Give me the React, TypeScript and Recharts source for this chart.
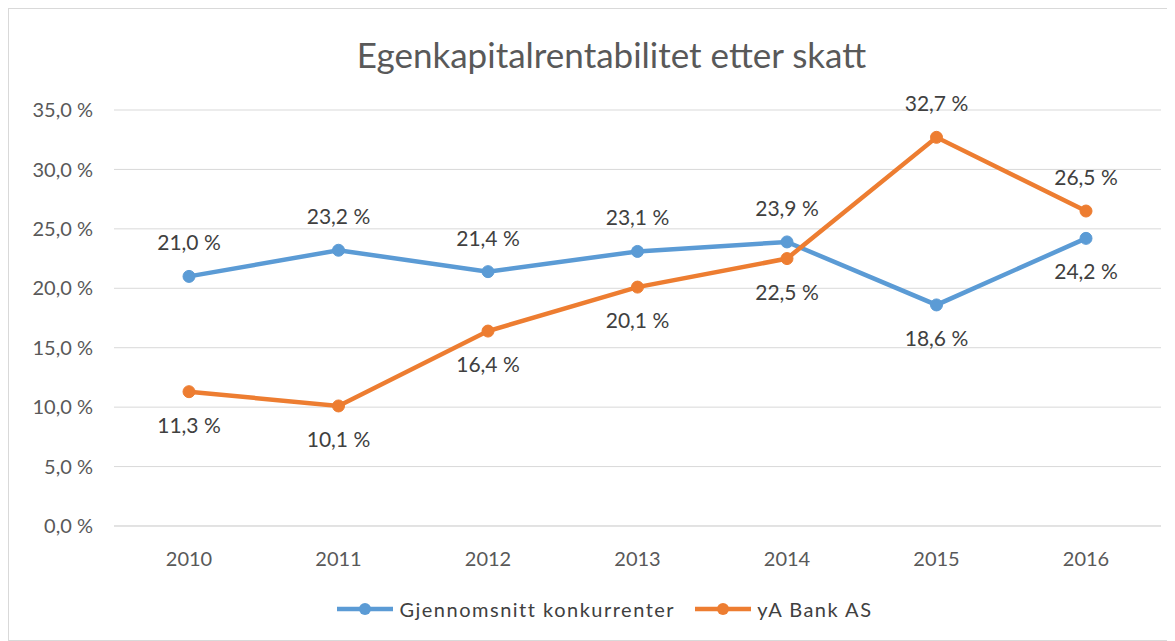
import React from 'react'
import { LineChart, Line, XAxis, YAxis, CartesianGrid, Legend, LabelList } from 'recharts'

const years = ['2010', '2011', '2012', '2013', '2014', '2015', '2016']
const konkurrenter = [21.0, 23.2, 21.4, 23.1, 23.9, 18.6, 24.2]
const yaBank = [11.3, 10.1, 16.4, 20.1, 22.5, 32.7, 26.5]
const yTicks = [0, 5, 10, 15, 20, 25, 30, 35]

// label above (true) or below (false) the point, per year
const blueAbove = [true, true, true, true, true, false, false]
const orangeAbove = [false, false, false, false, false, true, true]

const BLUE = '#5B9BD5'
const ORANGE = '#ED7D31'
const FONT = 'Lato, "Open Sans", sans-serif'

const data = years.map((year, i) => ({ year, konkurrenter: konkurrenter[i], yaBank: yaBank[i] }))

const pct = (v: number) => `${v.toFixed(1).replace('.', ',')} %`

function makeLabel(above: boolean[]) {
  return (props: any) => {
    const { x, y, value, index } = props
    const up = above[index]
    return (
      <text
        x={x}
        y={up ? y - 26 : y + 41}
        textAnchor="middle"
        fill="#404040"
        fontSize={21}
        fontFamily={FONT}
      >
        {pct(value)}
      </text>
    )
  }
}

function LegendContent() {
  const item = (color: string, label: string) => (
    <div style={{ display: 'flex', alignItems: 'center', margin: '0 10px' }}>
      <svg width={56} height={14}>
        <line x1={0} y1={7} x2={56} y2={7} stroke={color} strokeWidth={4.5} />
        <circle cx={28} cy={7} r={6} fill={color} />
      </svg>
      <span style={{ marginLeft: 6, fontSize: 20, letterSpacing: 1.5, color: '#404040', fontFamily: FONT }}>{label}</span>
    </div>
  )
  return (
    <div style={{ display: 'flex', justifyContent: 'center', paddingLeft: 40 }}>
      {item(BLUE, 'Gjennomsnitt konkurrenter')}
      {item(ORANGE, 'yA Bank AS')}
    </div>
  )
}

export default function App() {
  return (
    <div
      style={{
        position: 'relative',
        width: 1167,
        height: 633,
        boxSizing: 'border-box',
        border: '1px solid #d9d9d9',
        background: '#fff',
        fontFamily: FONT,
      }}
    >
      <div
        style={{
          position: 'absolute',
          top: 24,
          left: 20,
          width: '100%',
          textAlign: 'center',
          fontSize: 35,
          color: '#595959',
        }}
      >
        Egenkapitalrentabilitet etter skatt
      </div>
      <LineChart width={1165} height={631} data={data} margin={{ top: 101, right: 13, bottom: 30, left: 0 }}>
        <CartesianGrid vertical={false} stroke="#d9d9d9" strokeWidth={1} />
        <XAxis
          dataKey="year"
          axisLine={{ stroke: '#d9d9d9' }}
          tickLine={false}
          padding={{ left: 75, right: 75 }}
          tick={{ fill: '#595959', fontSize: 20, fontFamily: FONT }}
          tickMargin={20}
          height={48}
        />
        <YAxis
          domain={[0, 35]}
          ticks={yTicks}
          tickFormatter={pct}
          axisLine={false}
          tickLine={false}
          tickSize={0}
          tickMargin={21}
          width={105}
          tick={{ fill: '#595959', fontSize: 20, fontFamily: FONT }}
        />
        <Legend verticalAlign="bottom" height={36} wrapperStyle={{ bottom: 7 }} content={<LegendContent />} />
        <Line
          dataKey="konkurrenter"
          name="Gjennomsnitt konkurrenter"
          stroke={BLUE}
          strokeWidth={4.5}
          dot={{ r: 6, fill: BLUE, stroke: BLUE, strokeWidth: 1 }}
          isAnimationActive={false}
        >
          <LabelList dataKey="konkurrenter" content={makeLabel(blueAbove)} />
        </Line>
        <Line
          dataKey="yaBank"
          name="yA Bank AS"
          stroke={ORANGE}
          strokeWidth={4.5}
          dot={{ r: 6, fill: ORANGE, stroke: ORANGE, strokeWidth: 1 }}
          isAnimationActive={false}
        >
          <LabelList dataKey="yaBank" content={makeLabel(orangeAbove)} />
        </Line>
      </LineChart>
    </div>
  )
}
